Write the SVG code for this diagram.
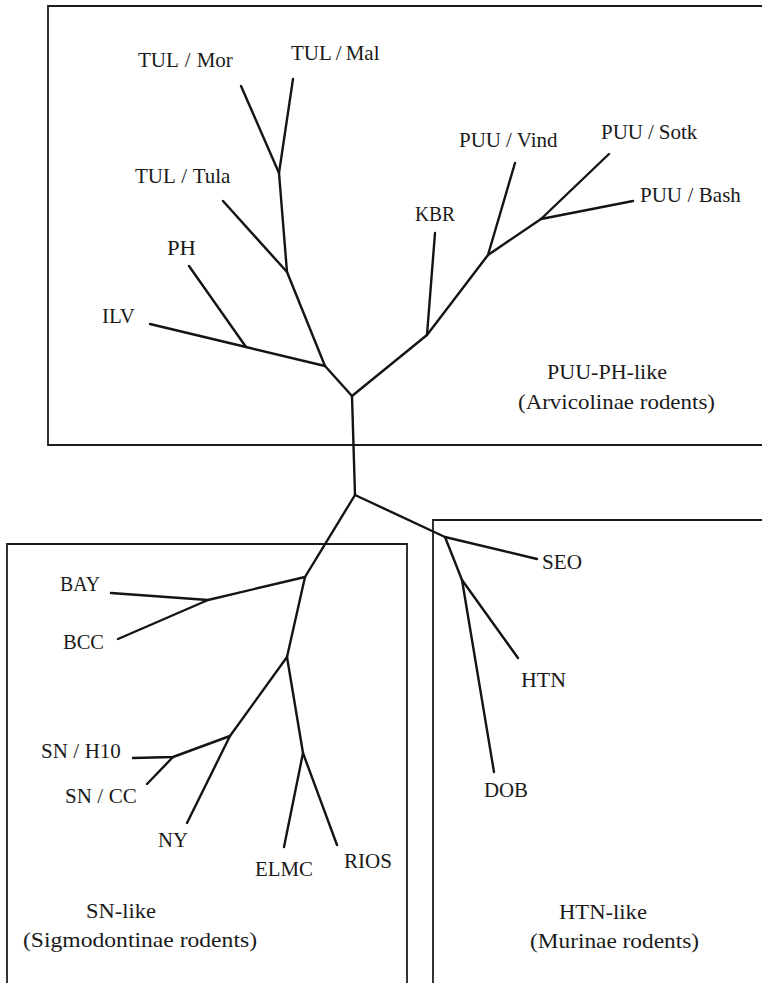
<svg xmlns="http://www.w3.org/2000/svg" width="762" height="983" viewBox="0 0 762 983">
<style>
.box{fill:none;stroke:#1c1c1c;stroke-width:1.8}
.br{fill:none;stroke:#141414;stroke-width:2.4;stroke-linecap:round;stroke-linejoin:round}
text{font-family:"Liberation Serif","DejaVu Serif",serif;font-size:21px;fill:#1a1a1a}
</style>
<rect width="762" height="983" fill="#ffffff"/>
<g id="box-puu">
<path class="box" d="M762 6 H48 V445 H762"/>
<text x="547" y="379" textLength="120" lengthAdjust="spacingAndGlyphs">PUU-PH-like</text>
<text x="518" y="409" textLength="197" lengthAdjust="spacingAndGlyphs">(Arvicolinae rodents)</text>
</g>
<g id="box-sn">
<path class="box" d="M7 983 V544 H407 V983"/>
<text x="86" y="918" textLength="70" lengthAdjust="spacingAndGlyphs">SN-like</text>
<text x="23" y="947" textLength="234" lengthAdjust="spacingAndGlyphs">(Sigmodontinae rodents)</text>
</g>
<g id="box-htn">
<path class="box" d="M433 983 V520 H762"/>
<text x="559" y="919" textLength="88" lengthAdjust="spacingAndGlyphs">HTN-like</text>
<text x="530" y="948" textLength="169" lengthAdjust="spacingAndGlyphs">(Murinae rodents)</text>
</g>
<g id="connectors">
<path class="br" d="M352 396 L355 495"/>
<path class="br" d="M352 396 L325 366 L287 272 L279 173 L241 86"/>
<path class="br" d="M279 173 L293 79"/>
<path class="br" d="M287 272 L223 201"/>
<path class="br" d="M325 366 L246 347 L150 324"/>
<path class="br" d="M246 347 L189 266"/>
<path class="br" d="M352 396 L427 335 L488 255 L541 219 L609 154"/>
<path class="br" d="M427 335 L435 233"/>
<path class="br" d="M488 255 L515 163"/>
<path class="br" d="M541 219 L633 201"/>
<path class="br" d="M355 495 L445 537 L537 559"/>
<path class="br" d="M445 537 L462 580 L518 658"/>
<path class="br" d="M462 580 L494 772"/>
<path class="br" d="M355 495 L305 577 L287 657 L230 736 L187 823"/>
<path class="br" d="M305 577 L208 600 L111 593"/>
<path class="br" d="M208 600 L118 639"/>
<path class="br" d="M287 657 L303 753 L284 847"/>
<path class="br" d="M303 753 L337 845"/>
<path class="br" d="M230 736 L173 757 L133 758"/>
<path class="br" d="M173 757 L147 784"/>
</g>
<g id="n-tulmor"><text x="138" y="67">TUL<tspan dx="6">/</tspan><tspan dx="6">Mor</tspan></text></g>
<g id="n-tulmal"><text x="291" y="60">TUL<tspan dx="4">/</tspan><tspan dx="4">Mal</tspan></text></g>
<g id="n-tultula"><text x="135" y="183">TUL<tspan dx="5.5">/</tspan><tspan dx="5.5">Tula</tspan></text></g>
<g id="n-ph"><text x="167" y="255" textLength="29" lengthAdjust="spacingAndGlyphs">PH</text></g>
<g id="n-ilv"><text x="102" y="323" textLength="33" lengthAdjust="spacingAndGlyphs">ILV</text></g>
<g id="n-kbr"><text x="415" y="221" textLength="40" lengthAdjust="spacingAndGlyphs">KBR</text></g>
<g id="n-puuvind"><text x="459" y="147">PUU<tspan dx="5">/</tspan><tspan dx="5">Vind</tspan></text></g>
<g id="n-puusotk"><text x="601" y="139">PUU<tspan dx="5">/</tspan><tspan dx="5">Sotk</tspan></text></g>
<g id="n-puubash"><text x="640" y="202">PUU<tspan dx="5.5">/</tspan><tspan dx="5.5">Bash</tspan></text></g>
<g id="n-seo"><text x="542" y="569" textLength="40" lengthAdjust="spacingAndGlyphs">SEO</text></g>
<g id="n-htn"><text x="521" y="687" textLength="45" lengthAdjust="spacingAndGlyphs">HTN</text></g>
<g id="n-dob"><text x="484" y="797" textLength="44" lengthAdjust="spacingAndGlyphs">DOB</text></g>
<g id="n-bay"><text x="60" y="591" textLength="40" lengthAdjust="spacingAndGlyphs">BAY</text></g>
<g id="n-bcc"><text x="63" y="649" textLength="41" lengthAdjust="spacingAndGlyphs">BCC</text></g>
<g id="n-snh10"><text x="41" y="758">SN<tspan dx="5.5">/</tspan><tspan dx="5.5">H10</tspan></text></g>
<g id="n-sncc"><text x="65" y="803">SN<tspan dx="5.5">/</tspan><tspan dx="5.5">CC</tspan></text></g>
<g id="n-ny"><text x="158" y="847" textLength="30" lengthAdjust="spacingAndGlyphs">NY</text></g>
<g id="n-elmc"><text x="255" y="876" textLength="58" lengthAdjust="spacingAndGlyphs">ELMC</text></g>
<g id="n-rios"><text x="344" y="868" textLength="48" lengthAdjust="spacingAndGlyphs">RIOS</text></g>
</svg>
